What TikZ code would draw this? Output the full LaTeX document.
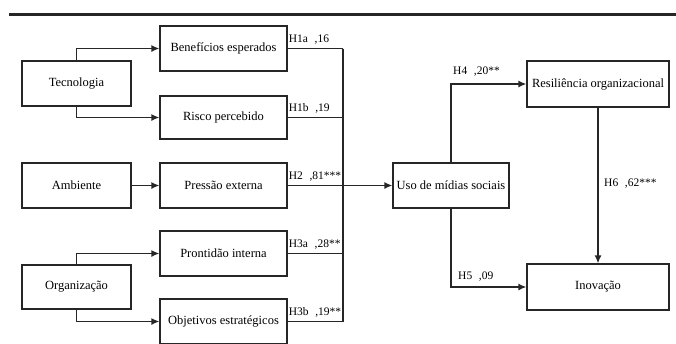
\documentclass[tikz,border=0pt]{standalone}
\usepackage{fontspec}
\setmainfont{Liberation Serif}
\usetikzlibrary{arrows.meta}
\begin{document}
\begin{tikzpicture}[x=1pt,y=-1pt,
  box/.style={draw=black!85,line width=1.3pt,minimum height=45pt,inner sep=0pt,font=\fontsize{12.5}{14}\selectfont},
  lab/.style={inner sep=1pt,font=\fontsize{11.5}{14}\selectfont},
  conn/.style={draw=black!85,line width=1.3pt},
  arr/.style={conn,-{Latex[length=8pt,width=7pt]}}]
\path[use as bounding box] (0,0) rectangle (676,343);
\clip (0,0) rectangle (676,343);
\draw[line width=3pt,black!85] (9,14) -- (676,14);
% nodes
\node[box,minimum width=109pt] (tec) at (76.5,83.5) {Tecnologia};
\node[box,minimum width=127pt] (ben) at (223.5,48.5) {Benefícios esperados};
\node[box,minimum width=127pt,minimum height=43pt] (ris) at (223.5,117.5) {Risco percebido};
\node[box,minimum width=109pt] (amb) at (76.5,185.5) {Ambiente};
\node[box,minimum width=127pt] (pre) at (223.5,185.5) {Pressão externa};
\node[box,minimum width=127pt] (pro) at (223.5,253.5) {Prontidão interna};
\node[box,minimum width=109pt,minimum height=44pt] (org) at (76.5,287) {Organização};
\node[box,minimum width=127pt] (obj) at (223.5,321.5) {Objetivos estratégicos};
\node[box,minimum width=116pt] (uso) at (451,185.5) {Uso de mídias sociais};
\node[box,minimum width=142pt,minimum height=46pt] (res) at (598,84) {Resiliência organizacional};
\node[box,minimum width=142pt,minimum height=46pt] (ino) at (598,287) {Inovação};
\coordinate (bustop) at (343,48.5);
\coordinate (busbot) at (343,321.5);
% connectors
\draw[arr] (tec.north) |- (ben.west);
\draw[arr] (tec.south) |- (ris.west);
\draw[arr] (amb) -- (pre);
\draw[arr] (org.north) |- (pro.west);
\draw[arr] (org.south) |- (obj.west);
\draw[conn] (bustop) -- (busbot);
\draw[conn] (ben.east) -- (bustop);
\draw[conn] (ris.east) -- (ris.east -| bustop);
\draw[conn] (pro.east) -- (pro.east -| bustop);
\draw[conn] (obj.east) -- (busbot);
\draw[arr] (pre.east) -- (uso.west);
\draw[arr] (uso.north) |- (res.west);
\draw[arr] (uso.south) |- (ino.west);
\draw[arr] (res.south) -- (ino.north);
% labels
\node[lab,anchor=south west] (l1a) at ([yshift=3pt]ben.east) {H1a\,\, ,16};
\node[lab,anchor=south west] (l1b) at ([yshift=3pt]ris.east) {H1b\,\, ,19};
\node[lab,anchor=south west] (l2) at ([yshift=3pt]pre.east) {H2\,\, ,81***};
\node[lab,anchor=south west] (l3a) at ([yshift=3pt]pro.east) {H3a\,\, ,28**};
\node[lab,anchor=south west] (l3b) at ([yshift=3pt]obj.east) {H3b\,\, ,19**};
\node[lab,anchor=south west] (l4) at (452,77) {H4\,\, ,20**};
\node[lab,anchor=south west] (l5) at (457,282) {H5\,\, ,09};
\node[lab,anchor=west] (l6) at (603,184) {H6\,\, ,62***};
\end{tikzpicture}
\end{document}
